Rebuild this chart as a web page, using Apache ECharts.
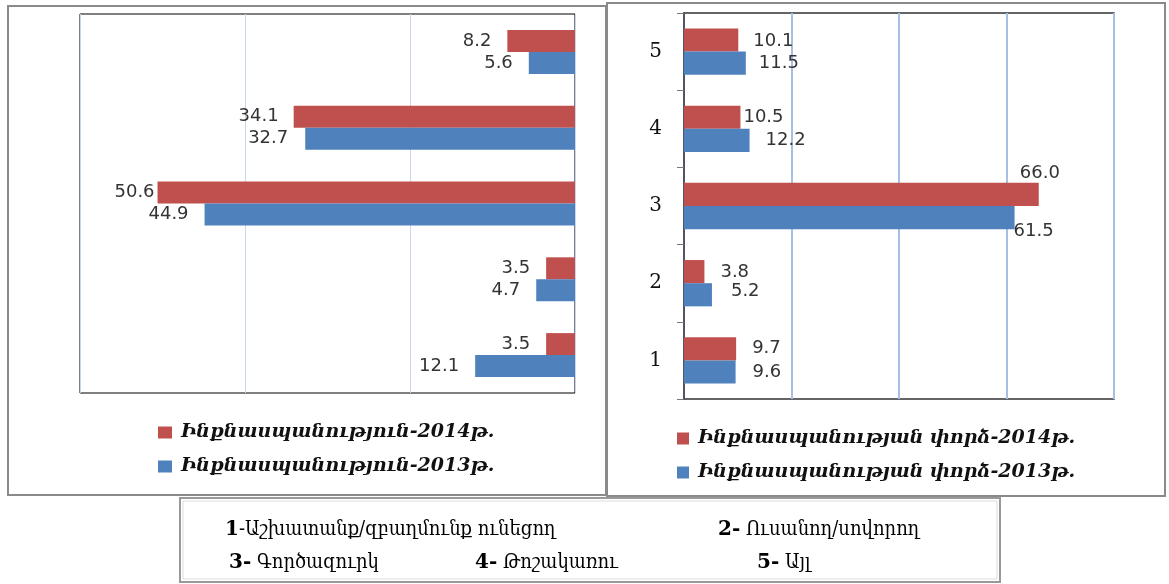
<!DOCTYPE html>
<html>
<head>
<meta charset="utf-8">
<script src="https://cdn.jsdelivr.net/npm/echarts@6/dist/echarts.min.js"></script>
<style>
html,body{margin:0;padding:0;background:#fff;}
#c{width:1169px;height:584px;}
</style>
</head>
<body>
<div id="c"></div>
<script>
// ---- data ----
var categories = ['1', '2', '3', '4', '5'];
var leftNames = ['Ինքնասպանություն-2014թ.', 'Ինքնասպանություն-2013թ.'];
var rightNames = ['Ինքնասպանության փորձ-2014թ.', 'Ինքնասպանության փորձ-2013թ.'];
var left2014 = [3.5, 3.5, 50.6, 34.1, 8.2];
var left2013 = [12.1, 4.7, 44.9, 32.7, 5.6];
var right2014 = [9.7, 3.8, 66.0, 10.5, 10.1];
var right2013 = [9.6, 5.2, 61.5, 12.2, 11.5];
var notes = [
  ['1', '-Աշխատանք/զբաղմունք ունեցող'],
  ['2-', ' Ուսանող/սովորող'],
  ['3-', ' Գործազուրկ'],
  ['4-', ' Թոշակառու'],
  ['5-', ' Այլ']
];

// ---- label placement (style, not data) ----
var leftDist2014 = [16, 16, 3, 15, 16];
var leftDist2013 = [16, 16, 16, 17, 16];
var rightDist2014 = [16, 16, 5, 3, 15];
var rightDist2013 = [17, 19, 5, 16, 13];
var rightOff2014 = [[0,0],[0,1],[-24,-21],[0,0],[0,1]];
var rightOff2013 = [[0,0],[0,-3],[-6,14],[0,0],[0,0]];

var RED = '#C0504D', BLUE = '#4F81BD';
var LBL = {color:'#333', fontFamily:'DejaVu Sans', fontSize:18};

function items(vals, pos, dists, offs) {
  return vals.map(function (v, i) {
    var l = Object.assign({show:true, position:pos, distance:dists[i],
      formatter:function(p){return p.value.toFixed(1);}}, LBL);
    if (offs) l.offset = offs[i];
    return {value: v, label: l};
  });
}

var chart = echarts.init(document.getElementById('c'));
var legendText = {fontFamily:'DejaVu Serif', fontStyle:'italic', fontWeight:'bold', fontSize:19, color:'#111', padding:[0,0,0,4]};

var option = {
  animation:false,
  backgroundColor:'#fff',
  grid:[
    {left:80, top:14, width:495, height:379, show:true, borderColor:'#000', borderWidth:1, containLabel:false},
    {left:684, top:13, width:430, height:386, show:true, borderColor:'#333', borderWidth:1.5, containLabel:false}
  ],
  xAxis:[
    {gridIndex:0, type:'value', inverse:true, min:0, max:60, interval:20,
     axisLabel:{show:false}, axisLine:{show:false}, axisTick:{show:false},
     splitLine:{lineStyle:{color:'#C9D7EC', width:1}}},
    {gridIndex:1, type:'value', min:0, max:80, interval:20,
     axisLabel:{show:false}, axisLine:{show:false}, axisTick:{show:false},
     splitLine:{lineStyle:{color:'#A7BFE6', width:2}}}
  ],
  yAxis:[
    {gridIndex:0, type:'category', data:categories, position:'right',
     axisLabel:{show:false}, axisLine:{show:false}, axisTick:{show:false}},
    {gridIndex:1, type:'category', data:categories,
     axisLine:{lineStyle:{color:'#333', width:1.5}},
     axisTick:{show:true, length:7, lineStyle:{color:'#777'}},
     axisLabel:{fontFamily:'DejaVu Serif', fontSize:20, color:'#111', margin:22}}
  ],
  legend:[
    {data:leftNames, orient:'vertical', left:158, top:423, padding:0, itemWidth:14, itemHeight:12,
     itemGap:15, icon:'rect', textStyle:legendText, selectedMode:false},
    {data:rightNames, orient:'vertical', left:677, top:429, padding:0, itemWidth:12, itemHeight:12,
     itemGap:15, icon:'rect', textStyle:legendText, selectedMode:false}
  ],
  series:[
    {name:leftNames[0], type:'bar', xAxisIndex:0, yAxisIndex:0, barGap:'0%', barCategoryGap:'42%',
     itemStyle:{color:RED}, data:items(left2014, 'left', leftDist2014)},
    {name:leftNames[1], type:'bar', xAxisIndex:0, yAxisIndex:0, barGap:'0%', barCategoryGap:'42%',
     itemStyle:{color:BLUE}, data:items(left2013, 'left', leftDist2013)},
    {name:rightNames[0], type:'bar', xAxisIndex:1, yAxisIndex:1, barGap:'0%', barCategoryGap:'40%',
     itemStyle:{color:RED}, data:items(right2014, 'right', rightDist2014, rightOff2014)},
    {name:rightNames[1], type:'bar', xAxisIndex:1, yAxisIndex:1, barGap:'0%', barCategoryGap:'40%',
     itemStyle:{color:BLUE}, data:items(right2013, 'right', rightDist2013, rightOff2013)}
  ],
  graphic:[
    {type:'rect', shape:{x:8, y:6, width:598, height:489}, style:{fill:null, stroke:'#8a8a8a', lineWidth:2}, silent:true},
    {type:'rect', shape:{x:607, y:3, width:558, height:493}, style:{fill:null, stroke:'#8a8a8a', lineWidth:2}, silent:true},
    {type:'rect', shape:{x:180, y:498, width:820, height:84}, style:{fill:null, stroke:'#999', lineWidth:2}, silent:true},
    {type:'rect', shape:{x:183, y:501, width:814, height:78}, style:{fill:null, stroke:'#ddd', lineWidth:1}, silent:true}
  ]
};

var notePos = [[225, 530], [718, 530], [229, 563], [475, 563], [757, 563]];
notes.forEach(function (n, i) {
  option.graphic.push({
    type:'text', x:notePos[i][0], y:notePos[i][1], silent:true,
    style:{
      text:'{b|' + n[0] + '}{r|' + n[1] + '}',
      verticalAlign:'middle',
      rich:{
        b:{fontFamily:'DejaVu Serif', fontWeight:'bold', fontSize:20, fill:'#000'},
        r:{fontFamily:'DejaVu Serif Condensed, DejaVu Serif', fontSize:20, fill:'#000'}
      }
    }
  });
});

chart.setOption(option);
</script>
</body>
</html>
